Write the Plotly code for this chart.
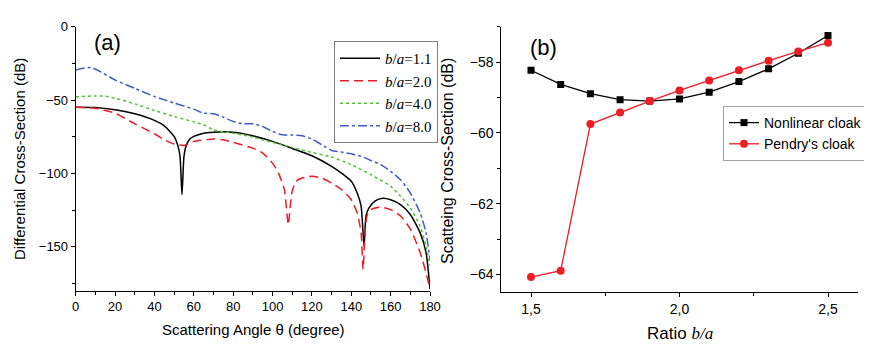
import plotly.graph_objects as go

# ---- panel (a): differential cross-section vs scattering angle ----
theta_11 = [0, 10, 20, 30, 40, 45, 50, 52, 53, 54, 55, 56, 58, 60, 65, 70, 75, 80, 85, 90,
            100, 110, 120, 130, 135, 140, 143, 145, 146.5, 147.5, 149, 152, 156, 160, 165,
            170, 175, 178, 180]
dcs_11 = [-54.9, -55.1, -56.7, -59.4, -63.9, -67.6, -74.8, -81.6, -88.4, -114.5, -88.4, -81.6,
          -76.6, -74.8, -72.6, -71.9, -71.6, -71.9, -72.9, -74.4, -78.2, -83.0, -88.0, -95.2,
          -99.8, -105.4, -113.4, -122.4, -149.7, -129.0, -123.6, -119.0, -117.0, -118.0,
          -121.3, -128.0, -140.6, -154.0, -179.0]

theta_20 = [0, 10, 20, 30, 40, 45, 50, 55, 60, 70, 75, 80, 90, 95, 100, 103, 106, 108, 109,
            110, 112, 115, 120, 125, 130, 135, 140, 143, 145, 146, 147, 148, 150, 155, 160,
            165, 170, 175, 178, 180]
dcs_20 = [-54.9, -55.6, -59.0, -66.2, -73.0, -77.1, -80.0, -81.0, -78.2, -76.6, -77.1, -78.9,
          -82.8, -86.2, -93.0, -99.8, -111.0, -135.0, -122.4, -112.2, -105.4, -103.2, -102.0,
          -103.2, -106.6, -111.0, -118.0, -127.0, -140.6, -165.5, -140.6, -129.0, -124.7,
          -123.0, -124.7, -129.0, -138.0, -154.0, -167.8, -179.0]

theta_40 = [0, 10, 15, 20, 30, 40, 50, 60, 65, 70, 80, 90, 100, 110, 120, 130, 140, 150, 160,
            165, 170, 175, 178, 180]
dcs_40 = [-47.8, -47.2, -47.4, -48.8, -52.6, -57.1, -61.2, -64.9, -66.9, -70.3, -72.6, -75.3,
          -78.9, -82.3, -85.7, -88.9, -94.1, -100.9, -108.8, -115.6, -123.6, -136.0, -149.7,
          -163.0]

theta_80 = [0, 8, 20, 30, 40, 50, 60, 65, 70, 75, 80, 85, 90, 95, 100, 105, 110, 115, 120, 125,
            130, 135, 140, 145, 150, 155, 160, 165, 170, 175, 178, 180]
dcs_80 = [-29.5, -27.9, -36.3, -42.0, -47.6, -52.0, -56.2, -59.0, -59.4, -61.7, -64.6, -66.2,
          -66.2, -68.0, -71.4, -73.7, -73.9, -74.4, -76.6, -80.5, -84.4, -85.5, -86.6, -88.4,
          -91.2, -94.0, -98.6, -104.3, -113.4, -127.0, -140.6, -158.7]

# ---- panel (b): total scattering cross-section vs b/a ----
ratio = [1.5, 1.6, 1.7, 1.8, 1.9, 2.0, 2.1, 2.2, 2.3, 2.4, 2.5]
nonlinear = [-58.23, -58.63, -58.89, -59.06, -59.10, -59.04, -58.85, -58.55, -58.19, -57.75, -57.25]
pendry = [-64.07, -63.89, -59.75, -59.42, -59.10, -58.80, -58.52, -58.23, -57.96, -57.70, -57.45]

RED = "#ee1c25"
GREEN = "#52c234"
BLUE = "#3f5fbf"
SERIF = "Liberation Serif"
SANS = "Liberation Sans"

# page body keeps an 8px margin, so the figure is 8px smaller than the window
W, H, OFF = 864, 346, 8


def px(x):
    return (x - OFF) / W


def py(y):
    return 1 - (y - OFF) / H


fig = go.Figure()

curves = [
    (theta_11, dcs_11, "<i>b</i>/<i>a</i>=1.1", "black", "solid"),
    (theta_20, dcs_20, "<i>b</i>/<i>a</i>=2.0", RED, "9px,5px"),
    (theta_40, dcs_40, "<i>b</i>/<i>a</i>=4.0", GREEN, "dot"),
    (theta_80, dcs_80, "<i>b</i>/<i>a</i>=8.0", BLUE, "dashdot"),
]
for x, y, name, color, dash in curves:
    fig.add_trace(go.Scatter(
        x=x, y=y, mode="lines", name=name,
        line=dict(color=color, width=1.5, dash=dash, shape="spline", smoothing=0.6),
        xaxis="x", yaxis="y", legend="legend",
    ))

fig.add_trace(go.Scatter(
    x=ratio, y=nonlinear, mode="lines+markers", name="Nonlinear cloak",
    line=dict(color="black", width=1.3),
    marker=dict(symbol="square", size=7, color="black"),
    xaxis="x2", yaxis="y2", legend="legend2",
))
fig.add_trace(go.Scatter(
    x=ratio, y=pendry, mode="lines+markers", name="Pendry's cloak",
    line=dict(color=RED, width=1.3),
    marker=dict(symbol="circle", size=8, color=RED),
    xaxis="x2", yaxis="y2", legend="legend2",
))

axis_common = dict(
    showline=True, linecolor="black", linewidth=1, mirror=False,
    showgrid=False, zeroline=False, automargin=False,
    ticks="outside", ticklen=4, tickwidth=1, tickcolor="black",
    fixedrange=True,
)

fig.update_layout(
    width=W, height=H,
    paper_bgcolor="white", plot_bgcolor="white",
    margin=dict(l=0, r=0, t=0, b=0),
    font=dict(family=SANS, color="black"),
    xaxis=dict(
        axis_common, domain=[px(75.7), px(430)], range=[0, 180],
        tickvals=[0, 20, 40, 60, 80, 100, 120, 140, 160, 180],
        tickfont=dict(size=13, family=SANS),
        minor=dict(tickvals=[10, 30, 50, 70, 90, 110, 130, 150, 170], ticks="outside",
                   ticklen=3, tickcolor="black"),
        anchor="y",
    ),
    yaxis=dict(
        axis_common, domain=[py(290.7), py(26.7)], range=[-180, 0],
        tickvals=[0, -50, -100, -150],
        tickfont=dict(size=13, family=SANS),
        minor=dict(tickvals=[-25, -75, -125, -175], ticks="outside", ticklen=3,
                   tickcolor="black"),
        anchor="x",
    ),
    xaxis2=dict(
        axis_common, domain=[px(501.3), px(857.7)], range=[1.4, 2.6],
        tickvals=[1.5, 2.0, 2.5], ticktext=["1,5", "2,0", "2,5"],
        tickfont=dict(size=14, family=SANS),
        minor=dict(tickvals=[1.75, 2.25], ticks="outside", ticklen=3, tickcolor="black"),
        anchor="y2",
    ),
    yaxis2=dict(
        axis_common, domain=[py(292.3), py(26.7)], range=[-64.5, -57],
        tickvals=[-58, -60, -62, -64],
        tickfont=dict(size=14, family=SANS),
        minor=dict(tickvals=[-57, -59, -61, -63], ticks="outside", ticklen=3,
                   tickcolor="black"),
        anchor="x2",
    ),
    legend=dict(
        x=px(334), y=py(41), xanchor="left", yanchor="top",
        bgcolor="white", bordercolor="#808080", borderwidth=1,
        font=dict(family=SERIF, size=15, color="black"),
        tracegroupgap=0, itemwidth=40,
    ),
    legend2=dict(
        x=px(723), y=py(106), xanchor="left", yanchor="top",
        bgcolor="white", bordercolor="#a0a0a0", borderwidth=1,
        font=dict(family=SANS, size=14, color="black"),
        tracegroupgap=0, itemwidth=30,
    ),
    showlegend=True,
)

annotations = [
    dict(text="(a)", x=16.4, y=-11, xref="x", yref="y", showarrow=False,
         xanchor="center", yanchor="middle", font=dict(size=22, family=SANS)),
    dict(text="(b)", x=1.543, y=-57.59, xref="x2", yref="y2", showarrow=False,
         xanchor="center", yanchor="middle", font=dict(size=22, family=SANS)),
    dict(text="Differential Cross-Section (dB)", x=px(19), y=py(159),
         xref="paper", yref="paper", textangle=-90, showarrow=False,
         xanchor="center", yanchor="middle", font=dict(size=15, family=SANS)),
    dict(text="Scattering Angle \u03b8 (degree)", x=px(253), y=py(329),
         xref="paper", yref="paper", showarrow=False,
         xanchor="center", yanchor="middle", font=dict(size=15, family=SANS)),
    dict(text="Scatteing Cross-Section (dB)", x=px(448), y=py(161),
         xref="paper", yref="paper", textangle=-90, showarrow=False,
         xanchor="center", yanchor="middle", font=dict(size=16, family=SANS)),
    dict(text="Ratio <i><span style='font-family:Liberation Serif'>b/a</span></i>",
         x=px(680), y=py(333), xref="paper", yref="paper", showarrow=False,
         xanchor="center", yanchor="middle", font=dict(size=17, family=SANS)),
]
fig.update_layout(annotations=annotations)

fig.write_html("out.html")
